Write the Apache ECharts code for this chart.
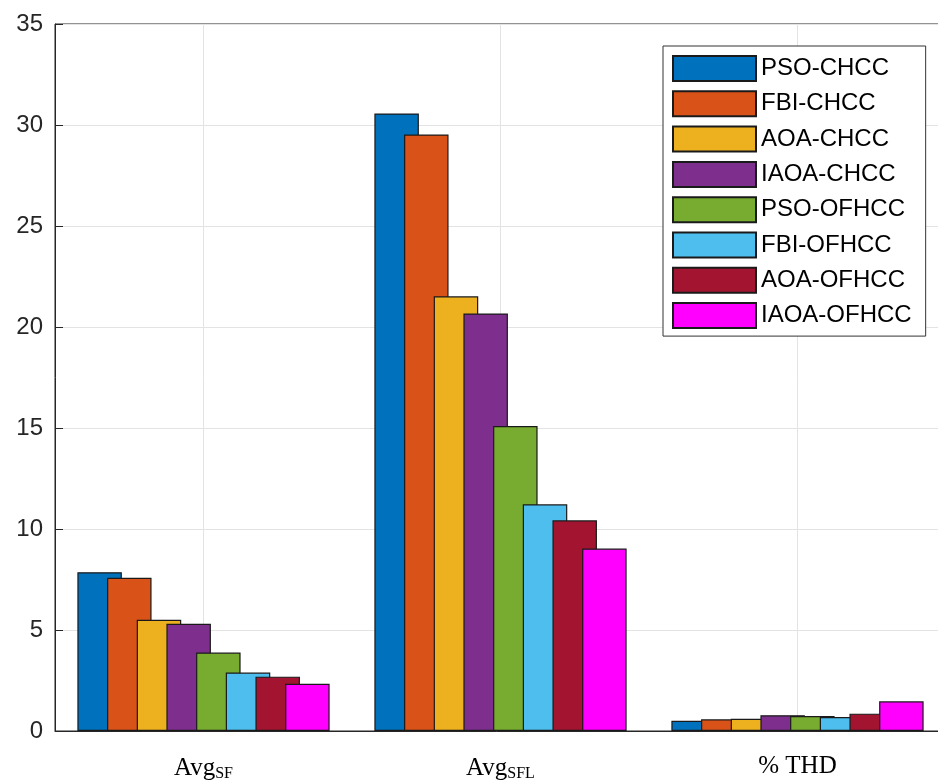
<!DOCTYPE html>
<html><head><meta charset="utf-8">
<script src="https://cdn.jsdelivr.net/npm/echarts@6/dist/echarts.min.js"></script>
<style>html,body{margin:0;padding:0;background:#fff}#c{width:938px;height:780px}</style>
</head><body><div id="c"></div>
<script>
const categories = [['Avg','SF'], ['Avg','SFL'], ['% THD','']];
const seriesNames = ['PSO-CHCC','FBI-CHCC','AOA-CHCC','IAOA-CHCC','PSO-OFHCC','FBI-OFHCC','AOA-OFHCC','IAOA-OFHCC'];
const PSO_CHCC   = [7.86, 30.57, 0.51];
const FBI_CHCC   = [7.59, 29.53, 0.58];
const AOA_CHCC   = [5.51, 21.52, 0.61];
const IAOA_CHCC  = [5.31, 20.67, 0.78];
const PSO_OFHCC  = [3.88, 15.10, 0.74];
const FBI_OFHCC  = [2.89, 11.22, 0.69];
const AOA_OFHCC  = [2.69, 10.43, 0.86];
const IAOA_OFHCC = [2.34, 9.03, 1.47];
const yTicks = [0, 5, 10, 15, 20, 25, 30, 35];

const values = [PSO_CHCC, FBI_CHCC, AOA_CHCC, IAOA_CHCC, PSO_OFHCC, FBI_OFHCC, AOA_OFHCC, IAOA_OFHCC];
const colors = ['#0072BD','#D95319','#EDB120','#7E2F8E','#77AC30','#4DBEEE','#A2142F','#FF00FF'];
const catKeys = categories.map((c, i) => String(i));

const chart = echarts.init(document.getElementById('c'), null, {renderer: 'canvas'});
const series = values.map((v, i) => ({
  name: seriesNames[i],
  type: 'bar',
  data: v,
  barWidth: 44.5,
  barGap: '-33.3%',
  itemStyle: { color: colors[i], borderColor: '#1a1a1a', borderWidth: 1.2 },
  emphasis: { disabled: true },
  z: 2
}));
// vertical grid lines at category centres (behind bars)
series.push({
  name: '__grid', type: 'line', data: [], silent: true, z: 1,
  markLine: {
    silent: true, symbol: 'none', z: 1, animation: false,
    label: { show: false },
    lineStyle: { color: '#e3e3e3', width: 1, type: 'solid' },
    data: catKeys.map(k => ({ xAxis: k }))
  }
});

chart.setOption({
  animation: false,
  backgroundColor: '#fff',
  grid: { left: 55, top: 24, width: 891, height: 707, outerBoundsMode: 'none', containLabel: false,
          show: true, borderColor: '#262626', borderWidth: 1, backgroundColor: 'transparent' },
  legend: {
    orient: 'vertical', left: 663, top: 46,
    padding: [9, 14, 7, 9],
    itemWidth: 83, itemHeight: 25, itemGap: 8.3,
    backgroundColor: '#fff', borderColor: '#333', borderWidth: 1,
    textStyle: { fontFamily: 'Liberation Sans, Arial', fontSize: 24, color: '#000' },
    icon: 'rect',
    data: seriesNames
  },
  xAxis: {
    type: 'category',
    data: catKeys,
    axisLine: { lineStyle: { color: '#262626', width: 1 } },
    axisTick: { show: true, inside: true, alignWithLabel: true, length: 8, lineStyle: { color: '#262626' } },
    splitLine: { show: false },
    axisLabel: {
      margin: 23,
      formatter: function (v) {
        const c = categories[+v];
        return c[1] ? '{a|' + c[0] + '}{s|' + c[1] + '}' : '{a|' + c[0] + '}';
      },
      rich: {
        a: { fontFamily: 'Liberation Serif, Times New Roman', fontSize: 25, color: '#000' },
        s: { fontFamily: 'Liberation Serif, Times New Roman', fontSize: 16, color: '#000', padding: [12, 0, 0, 0] }
      }
    }
  },
  yAxis: {
    type: 'value', min: 0, max: 35, interval: 5,
    axisLine: { show: true, lineStyle: { color: '#262626', width: 1 } },
    axisTick: { show: true, inside: true, length: 8, lineStyle: { color: '#262626' } },
    splitLine: { show: true, lineStyle: { color: '#e3e3e3', width: 1 } },
    axisLabel: {
      margin: 12, fontFamily: 'Liberation Sans, Arial', fontSize: 24, color: '#262626',
      formatter: v => yTicks.includes(v) ? String(v) : ''
    }
  },
  series: series
});
</script></body></html>
